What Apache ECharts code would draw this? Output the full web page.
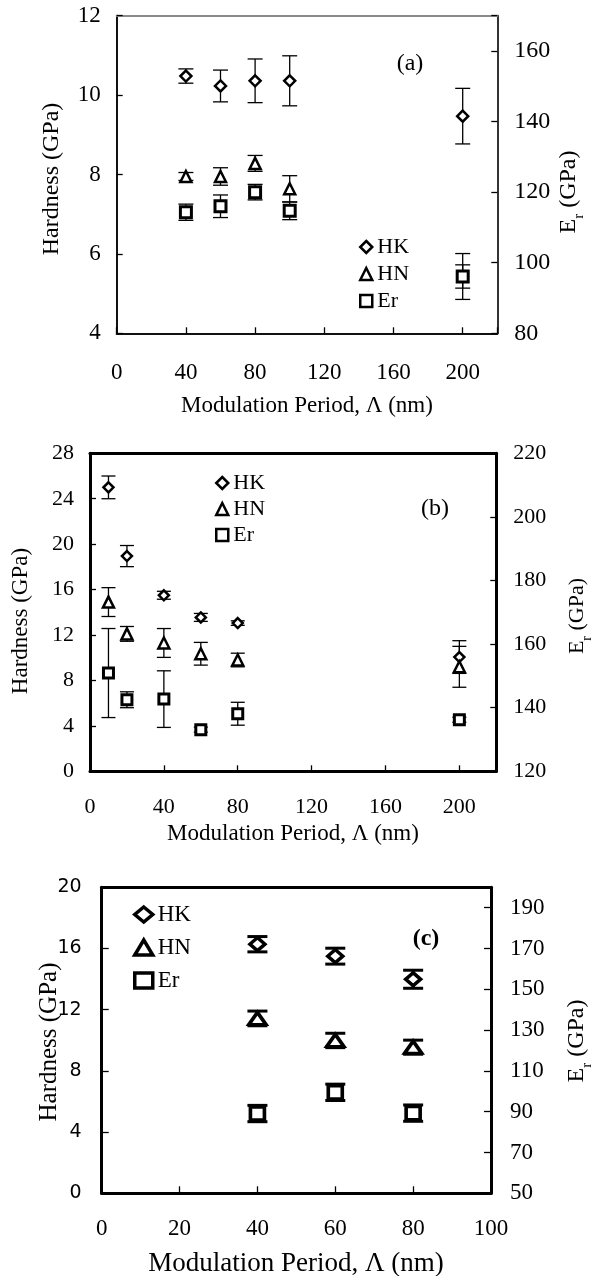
<!DOCTYPE html>
<html>
<head>
<meta charset="utf-8">
<script src="https://cdn.jsdelivr.net/npm/echarts@6/dist/echarts.min.js"></script>
<style>
  html, body { margin: 0; padding: 0; background: #fff; }
  #chart { width: 592px; height: 1276px; }
</style>
</head>
<body>
<div id="chart"></div>
<script>
// ---------------- DATA ----------------
// Panel (a)
const periodA = [40, 60, 80, 100, 200];
const hkA = [10.48, 10.23, 10.36, 10.36, 9.47];
const hkErrA = [0.18, 0.40, 0.55, 0.63, 0.70];
const hnPeriodA = [40, 60, 80, 100];
const hnA = [7.95, 7.95, 8.28, 7.64];
const hnErrA = [0.10, 0.22, 0.20, 0.33];
const erA = [114.3, 116.0, 120.0, 114.7, 96.1];
const erErrA = [2.3, 3.2, 2.2, 2.5, 6.5];
const erInnerErrA = [0, 0, 0, 0, 3.3];

// Panel (b)
const periodB = [10, 20, 40, 60, 80, 200];
const hkB = [25.0, 18.95, 15.5, 13.55, 13.05, 10.06];
const hkErrB = [1.0, 0.93, 0.35, 0.35, 0.2, 1.44];
const hnB = [14.9, 12.1, 11.3, 10.35, 9.8, 9.2];
const hnErrB = [1.27, 0.65, 1.27, 1.0, 0.6, 1.8];
const erB = [150.9, 142.5, 142.7, 133.1, 138.1, 136.2];
const erErrB = [14.0, 2.5, 8.9, 0.8, 3.6, 0.8];

// Panel (c)
const periodC = [40, 60, 80];
const hkC = [16.28, 15.5, 13.99];
const hkErrC = [0.5, 0.52, 0.59];
const hnC = [11.43, 9.99, 9.55];
const hnErrC = [0.48, 0.47, 0.46];
const erC = [89.1, 99.5, 89.3];
const erErrC = [4.0, 4.0, 4.0];

// Axis ranges / tick steps
const xTicksAB = { min: 0, max: 220, interval: 40 };
const xTicksC = { min: 0, max: 100, interval: 20 };
const hardA = { min: 4, max: 12, interval: 2 };
const modA = { min: 80, max: 170, interval: 20 };
const hardB = { min: 0, max: 28, interval: 4 };
const modB = { min: 120, max: 220, interval: 20 };
const hardC = { min: 0, max: 20, interval: 4 };
const modC = { min: 50, max: 200, interval: 20 };

const legendNames = ['HK', 'HN', 'Er'];
const panelLabels = ['(a)', '(b)', '(c)'];
const xTitle = 'Modulation Period, \u039B (nm)';
const hTitle = 'Hardness (GPa)';

// ---------------- HELPERS ----------------
const SERIF = '"Liberation Serif", "Times New Roman", serif';
const SANS = '"DejaVu Sans", sans-serif';

function pts(xs, ys) { return xs.map((x, i) => [x, ys[i]]); }
function bars(xs, ys, es) {
  const out = [];
  xs.forEach((x, i) => { if (es[i] > 0) out.push([x, ys[i] - es[i], ys[i] + es[i]]); });
  return out;
}

function errSeries(data, xi, yi, cap, lw) {
  return {
    type: 'custom', xAxisIndex: xi, yAxisIndex: yi, silent: true, z: 2,
    encode: { x: 0, y: [1, 2] },
    data: data,
    renderItem: function (params, api) {
      const x = api.value(0);
      const lo = api.coord([x, api.value(1)]);
      const hi = api.coord([x, api.value(2)]);
      const s = { stroke: '#000', lineWidth: lw };
      return {
        type: 'group', children: [
          { type: 'line', shape: { x1: lo[0], y1: lo[1], x2: hi[0], y2: hi[1] }, style: s },
          { type: 'line', shape: { x1: lo[0] - cap, y1: lo[1], x2: lo[0] + cap, y2: lo[1] }, style: s },
          { type: 'line', shape: { x1: hi[0] - cap, y1: hi[1], x2: hi[0] + cap, y2: hi[1] }, style: s }
        ]
      };
    }
  };
}

function scat(name, data, xi, yi, symbol, size, bw) {
  return {
    type: 'scatter', name: name, xAxisIndex: xi, yAxisIndex: yi, z: 5,
    symbol: symbol, symbolSize: size, data: data, silent: true,
    itemStyle: { color: '#fff', borderColor: '#000', borderWidth: bw, opacity: 1 },
    emphasis: { disabled: true }
  };
}

function xAxisBottom(grid, r, o) {
  return {
    type: 'value', gridIndex: grid, position: 'bottom', min: r.min, max: r.max, interval: r.interval,
    splitLine: { show: false },
    axisLine: { show: true, onZero: false, lineStyle: { color: o.lineColor, width: o.lw } },
    axisTick: { show: true, inside: true, length: o.tick, lineStyle: { color: '#000', width: 1.3 } },
    axisLabel: {
      show: true, margin: o.margin, color: '#000', fontFamily: SERIF, fontSize: o.fs,
      formatter: v => (v % r.interval === 0 ? String(v) : '')
    }
  };
}
function xAxisTop(grid, r, color, lw) {
  return {
    type: 'value', gridIndex: grid, position: 'top', min: r.min, max: r.max, interval: r.interval,
    splitLine: { show: false },
    axisLine: { show: true, onZero: false, lineStyle: { color: color, width: lw } },
    axisTick: { show: false }, axisLabel: { show: false }
  };
}
function yAxis(grid, pos, r, o) {
  return {
    type: 'value', gridIndex: grid, position: pos, min: r.min, max: r.max, interval: r.interval,
    splitLine: { show: false },
    axisLine: { show: true, onZero: false, lineStyle: { color: o.lineColor, width: o.lw } },
    axisTick: { show: true, inside: true, length: o.tick, lineStyle: { color: '#000', width: 1.3 } },
    axisLabel: {
      show: true, margin: o.margin, color: '#000', fontFamily: o.ff || SERIF, fontSize: o.fs,
      formatter: v => ((v - r.min) % r.interval === 0 ? String(v) : '')
    }
  };
}

function legend(suffix, left, top, gap, w, h, fs, bw, ff) {
  return {
    orient: 'vertical', left: left, top: top, itemGap: gap, itemWidth: w, itemHeight: h,
    padding: 0, selectedMode: false,
    textStyle: { fontFamily: ff || SERIF, fontSize: fs, color: '#000', lineHeight: fs },
    formatter: n => n.split('_')[0],
    itemStyle: { color: '#fff', borderColor: '#000', borderWidth: bw },
    data: [
      { name: legendNames[0] + suffix, icon: 'diamond' },
      { name: legendNames[1] + suffix, icon: 'triangle' },
      { name: legendNames[2] + suffix, icon: 'rect' }
    ]
  };
}

function txt(x, y, text, fs, rot, bold) {
  return {
    type: 'text', x: x, y: y, rotation: rot || 0, silent: true, z: 10,
    style: {
      text: text, fill: '#000', fontFamily: SERIF, fontSize: fs, fontWeight: bold ? 'bold' : 'normal',
      align: 'center', verticalAlign: 'middle'
    }
  };
}
function erTitle(x, y, fs) {
  return {
    type: 'text', x: x, y: y, rotation: Math.PI / 2, silent: true, z: 10,
    style: {
      text: '{n|E}{s|r}{n| (GPa)}', fill: '#000', align: 'center', verticalAlign: 'middle',
      rich: {
        n: { fontFamily: SERIF, fontSize: fs, lineHeight: fs, verticalAlign: 'top', fill: '#000' },
        s: { fontFamily: SERIF, fontSize: Math.round(fs * 0.62), lineHeight: Math.round(fs * 1.25), verticalAlign: 'bottom', fill: '#000' }
      }
    }
  };
}

// ---------------- CHART ----------------
const chart = echarts.init(document.getElementById('chart'), null, { renderer: 'canvas' });

const option = {
  animation: false,
  backgroundColor: '#fff',
  grid: [
    { left: 116.7, top: 15.7, width: 380.6, height: 317.6, outerBoundsMode: 'none', containLabel: false },
    { left: 90, top: 453.3, width: 406.3, height: 318, outerBoundsMode: 'none', containLabel: false },
    { left: 101.7, top: 887.3, width: 389.3, height: 306, outerBoundsMode: 'none', containLabel: false }
  ],
  xAxis: [
    xAxisBottom(0, xTicksAB, { lineColor: '#111', lw: 2, tick: 6, margin: 28, fs: 23 }),
    xAxisTop(0, xTicksAB, '#8a8a8a', 2),
    xAxisBottom(1, xTicksAB, { lineColor: '#000', lw: 3, tick: 6, margin: 25, fs: 22 }),
    xAxisTop(1, xTicksAB, '#000', 3),
    xAxisBottom(2, xTicksC, { lineColor: '#000', lw: 3, tick: 7, margin: 24, fs: 23 }),
    xAxisTop(2, xTicksC, '#000', 3)
  ],
  yAxis: [
    yAxis(0, 'left', hardA, { lineColor: '#111', lw: 2, tick: 6, margin: 16, fs: 23 }),
    yAxis(0, 'right', modA, { lineColor: '#333', lw: 2, tick: 6, margin: 17, fs: 24 }),
    yAxis(1, 'left', hardB, { lineColor: '#000', lw: 3, tick: 6, margin: 16, fs: 22 }),
    yAxis(1, 'right', modB, { lineColor: '#000', lw: 3, tick: 6, margin: 17, fs: 22 }),
    yAxis(2, 'left', hardC, { lineColor: '#000', lw: 3, tick: 7, margin: 20, fs: 19, ff: SANS }),
    yAxis(2, 'right', modC, { lineColor: '#000', lw: 3, tick: 7, margin: 19, fs: 23 })
  ],
  legend: [
    legend('_a', 359, 236, 5, 12, 12, 22, 2.5),
    legend('_b', 215, 472, 4, 12, 12, 22, 2.5),
    legend('_c', 133, 903, 10, 18, 15, 23, 3.5)
  ],
  series: [
    // (a)
    errSeries(bars(periodA, hkA, hkErrA), 0, 0, 7.5, 1.3),
    errSeries(bars(hnPeriodA, hnA, hnErrA), 0, 0, 7.5, 1.3),
    errSeries(bars(periodA, erA, erErrA), 0, 1, 7.5, 1.3),
    errSeries(bars(periodA, erA, erInnerErrA), 0, 1, 7.5, 1.3),
    scat('HK_a', pts(periodA, hkA), 0, 0, 'diamond', 11, 2.5),
    scat('HN_a', pts(hnPeriodA, hnA), 0, 0, 'triangle', 11, 2.5),
    scat('Er_a', pts(periodA, erA), 0, 1, 'rect', 11, 3),
    // (b)
    errSeries(bars(periodB, hkB, hkErrB), 2, 2, 7, 1.3),
    errSeries(bars(periodB, hnB, hnErrB), 2, 2, 7, 1.3),
    errSeries(bars(periodB, erB, erErrB), 2, 3, 7, 1.3),
    scat('HK_b', pts(periodB, hkB), 2, 2, 'diamond', 10, 2.5),
    scat('HN_b', pts(periodB, hnB), 2, 2, 'triangle', 11, 2.5),
    scat('Er_b', pts(periodB, erB), 2, 3, 'rect', 10, 3),
    // (c)
    errSeries(bars(periodC, hkC, hkErrC), 4, 4, 10, 3),
    errSeries(bars(periodC, hnC, hnErrC), 4, 4, 10, 3),
    errSeries(bars(periodC, erC, erErrC), 4, 5, 10, 3),
    scat('HK_c', pts(periodC, hkC), 4, 4, 'diamond', [15, 13], 3.5),
    scat('HN_c', pts(periodC, hnC), 4, 4, 'triangle', [17, 12], 3.5),
    scat('Er_c', pts(periodC, erC), 4, 5, 'rect', [14, 13], 3.5)
  ],
  graphic: [
    txt(410, 64, panelLabels[0], 24),
    txt(435, 509, panelLabels[1], 24),
    txt(426, 939, panelLabels[2], 24, 0, true),
    txt(52, 179, hTitle, 24, Math.PI / 2),
    txt(21, 621, hTitle, 23, Math.PI / 2),
    txt(49, 1042, hTitle, 25, Math.PI / 2),
    erTitle(572, 192, 24),
    erTitle(580, 616, 22),
    erTitle(580, 1041, 24),
    txt(307, 406, xTitle, 23),
    txt(293, 834, xTitle, 23),
    txt(296, 1264, xTitle, 27)
  ]
};

chart.setOption(option);
</script>
</body>
</html>
